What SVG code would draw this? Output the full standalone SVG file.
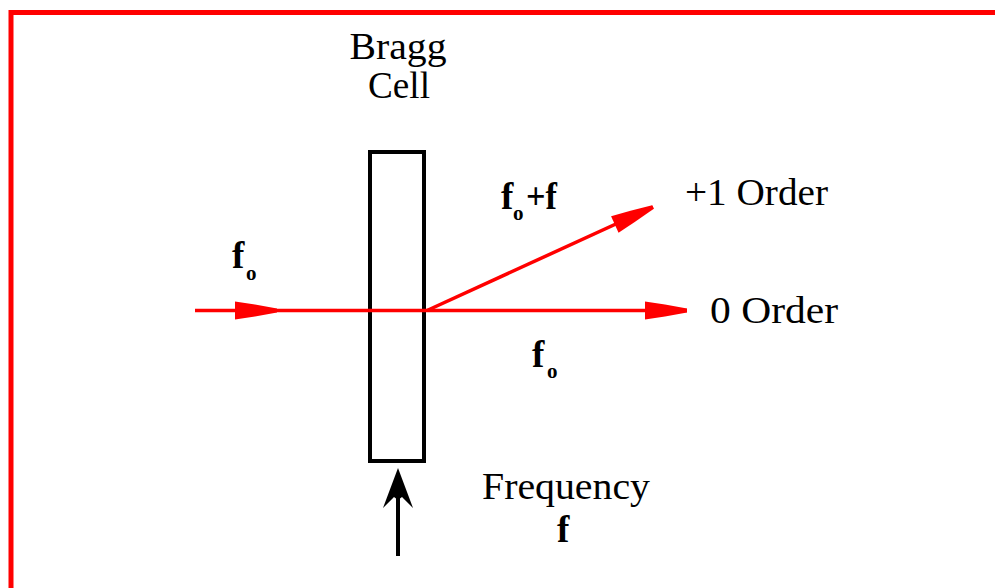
<svg xmlns="http://www.w3.org/2000/svg" width="995" height="588" viewBox="0 0 995 588">
<style>
.t{font-family:"Liberation Serif","Times New Roman",serif;font-size:37px;fill:#000;}
.b{font-weight:bold;}
.s{font-family:"Liberation Serif","Times New Roman",serif;font-size:21px;font-weight:bold;fill:#000;}
.beam{stroke:#ff0000;stroke-width:3.5;fill:none;}
</style>
<defs>
<marker id="rh" markerUnits="userSpaceOnUse" markerWidth="50" markerHeight="24" viewBox="-44 -12 50 24" refX="0" refY="0" orient="auto">
<path d="M-42,-9 L-22,-6 L0,-2 L0,2 L-22,6 L-42,9 Z" fill="#ff0000"/>
</marker>
</defs>
<rect width="995" height="588" fill="#fff"/>
<path d="M11,588 L11,12.5 L995,12.5" fill="none" stroke="#ff0000" stroke-width="5"/>
<g id="bragg-cell">
<rect x="370" y="152" width="54" height="309" fill="none" stroke="#000" stroke-width="4"/>
<text class="t" x="398" y="59" text-anchor="middle" textLength="97" lengthAdjust="spacingAndGlyphs">Bragg</text>
<text class="t" x="399" y="98" text-anchor="middle" textLength="62" lengthAdjust="spacingAndGlyphs">Cell</text>
</g>
<g id="connectors">
<line class="beam" x1="195" y1="310.5" x2="277" y2="310.5" marker-end="url(#rh)"/>
<line class="beam" x1="277" y1="310.5" x2="645" y2="310.5"/>
<line class="beam" x1="645" y1="310.5" x2="687" y2="310.5" marker-end="url(#rh)"/>
<line class="beam" x1="427" y1="310.5" x2="653" y2="207" marker-end="url(#rh)"/>
<line x1="398" y1="556" x2="398" y2="495" stroke="#000" stroke-width="4"/>
<path d="M398,468 L413,508 L402,497 L398,500 L394,497 L383,508 Z" fill="#000"/>
</g>
<g id="label-f0-in">
<text class="t b" x="232" y="268">f</text>
<text class="s" x="246" y="280">o</text>
</g>
<g id="label-f0-plus-f">
<text class="t b" x="501" y="209">f</text>
<text class="s" x="513" y="220">o</text>
<text class="t b" x="526" y="209" textLength="31" lengthAdjust="spacingAndGlyphs">+f</text>
</g>
<g id="label-plus1-order">
<text class="t" x="685" y="205" textLength="143" lengthAdjust="spacingAndGlyphs">+1 Order</text>
</g>
<g id="label-0-order">
<text class="t" x="710" y="323" textLength="128" lengthAdjust="spacingAndGlyphs">0 Order</text>
</g>
<g id="label-f0-out">
<text class="t b" x="532" y="367">f</text>
<text class="s" x="547" y="378">o</text>
</g>
<g id="label-frequency">
<text class="t" x="482" y="499" textLength="168" lengthAdjust="spacingAndGlyphs">Frequency</text>
<text class="t b" x="557" y="542">f</text>
</g>
</svg>
